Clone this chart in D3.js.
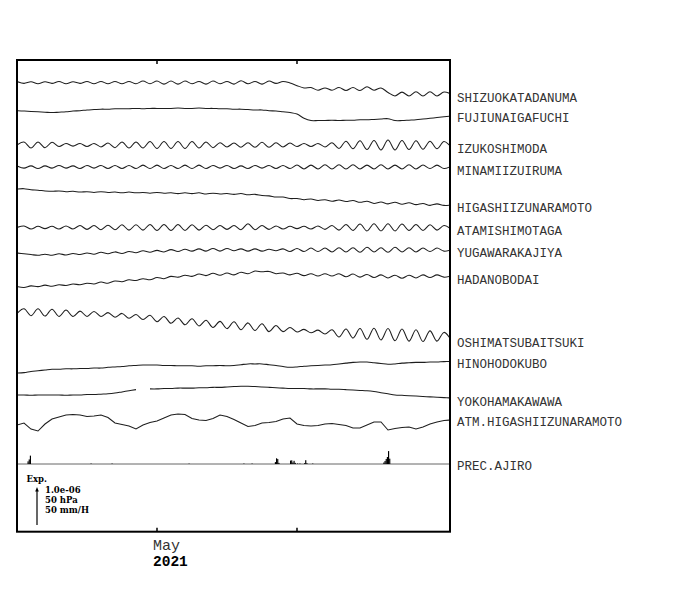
<!DOCTYPE html>
<html><head><meta charset="utf-8">
<script src="https://cdn.jsdelivr.net/npm/d3@7"></script>
<style>body{margin:0;background:#fff}</style>
</head><body>
<svg id="c" width="700" height="590"></svg>
<script>
// ---------------- DATA ----------------
const startTime = "2021-04-26T00:00:00Z";
const endTime = "2021-05-11T11:09:00Z";
const stepHours = 6;               // sampling step of the series below
const stations = ["SHIZUOKATADANUMA","FUJIUNAIGAFUCHI","IZUKOSHIMODA","MINAMIIZUIRUMA",
  "HIGASHIIZUNARAMOTO","ATAMISHIMOTAGA","YUGAWARAKAJIYA","HADANOBODAI",
  "OSHIMATSUBAITSUKI","HINOHODOKUBO","YOKOHAMAKAWAWA","ATM.HIGASHIIZUNARAMOTO","PREC.AJIRO"];

// strain, units of 1e-8 (relative)
const shizuoka = [33,28,32,27,32,28,33,27,32,28, 33,27,33,27,33,27,33,27,34,27, 34,26,34,26,34,27,33,26,34,27,
  33,26,35,27,33,26,34,28,33,29, 22,16,17,10,16,10,17,9,17,9, 19,10,16,4,-5,5,-5,6,-5,6, -5,5,0];
const fujiunaigafuchi = [14,13,12,11,10,9,10,11,13,14, 16,17,18,18,19,19,19,20,19,20, 20,20,20,21,20,20,21,20,20,19,
  19,18,18,17,16,16,14,13,11,9, 5,-6,-12,-12,-12,-11,-12,-11,-11,-10, -10,-9,-8,-7,-12,-12,-11,-10,-8,-6, -4,-2,0];
const izukoshimoda = [0,8,-8,8,-7,7,-4,4,-3,4, -4,4,-5,5,-7,8,-8,8,-8,9, -9,9,-9,9,-9,9,-8,8,-7,6,
  -5,5,-6,6,-6,7,-6,6,-5,5, -4,4,-4,4,-5,6,-9,10,-10,11, -12,12,-13,13,-13,12,-12,11,-11,10, -10,9,-5];
const minamiizuiruma = [3,-3,3,-4,3,-3,4,-3,3,-4, 4,-3,4,-4,4,-4,4,-4,5,-4, 5,-4,4,-4,5,-4,5,-4,4,-3,
  4,-4,3,-4,4,-3,4,-4,4,-4, 5,-5,5,-5,6,-5,6,-5,6,-5, 5,-5,6,-5,5,-5,6,-5,5,-4, 5,-4,2];
const higashiizunaramoto = [42,43,40,39,37,36,37,35,36,34, 35,33,35,33,34,32,34,32,33,31, 33,31,32,30,32,30,32,29,31,29,
  30,28,30,27,28,25,24,21,21,17, 17,14,16,12,14,10,13,9,12,7, 10,4,8,3,7,2,6,1,4,-1, 3,-1,0];
const atamishimotaga = [4,8,0,7,1,7,0,8,0,9, -1,9,-2,10,-2,11,-3,11,-3,12, -4,12,-4,12,-4,11,-3,10,-2,9,
  -1,9,-2,14,-2,9,-1,8,0,7, 1,7,0,8,-1,9,-3,12,-4,13, -5,14,-5,14,-5,13,-4,12,-4,11, -3,9,0];
const yugawarakajiya = [-8,-10,-12,-14,-11,-14,-10,-13,-9,-12, -8,-11,-6,-10,-5,-9,-4,-7,-2,-6, -1,-5,1,-4,2,-3,3,-3,4,-3,
  4,-2,3,-3,3,-3,2,-2,3,-4, 4,-4,5,-4,5,-5,6,-5,6,-6, 7,-5,6,-6,7,-5,6,-5,5,-4, 5,-3,0];
const hadanobodai = [-28,-30,-26,-28,-24,-27,-23,-25,-21,-23, -19,-21,-16,-19,-13,-15,-10,-12,-7,-10, -4,-7,-1,-3,2,-1,5,1,7,2,
  8,3,10,6,13,11,12,6,8,3, 7,1,6,0,6,0,6,-2,5,-3, 4,-4,3,-5,2,-6,2,-5,3,-4, 3,-3,0];
const oshimatsubaitsuki = [70,82,64,82,63,81,62,79,62,76, 62,75,62,72,60,70,57,67,54,65, 48,62,44,58,40,56,37,52,33,49,
  30,48,27,45,25,43,22,38,22,33, 21,28,19,26,16,27,8,29,5,30, 2,31,0,30,-2,29,-3,27,-4,24, -3,20,0];
const hinohodokubo = [-29,-28,-25,-23,-21,-19,-19,-18,-18,-17, -17,-16,-16,-14,-13,-12,-10,-9,-8,-8, -8,-9,-9,-10,-10,-10,-11,-10,-10,-9,
  -10,-9,-7,-5,-5,-5,-7,-9,-12,-14, -13,-11,-10,-9,-8,-7,-5,-3,-1,0, 0,-2,-4,-6,-5,-3,-2,-1,-1,0, 0,1,1];
const yokohamakawawa = [8,8,7,8,8,8,8,7,8,8, 9,9,10,11,13,16,19,22,null,24, 24,25,25,26,26,26,27,27,28,28,
  29,30,31,31,30,29,28,27,26,25, 25,25,24,24,24,23,23,22,21,20, 19,17,14,11,8,7,6,5,4,3, 2,1,0];
// atmospheric pressure, hPa
const atmPressure = [1004.1,1006.7,998.8,996.2,1005.4,1012.0,1014.6,1017.3,1017.9,1017.3,
  1015.3,1016.0,1017.3,1014.0,1006.7,1004.8,1002.8,998.8,1004.1,1007.4,
  1009.4,1013.3,1017.3,1018.6,1017.9,1012.7,1010.7,1010.0,1012.7,1017.3,
  1015.3,1011.3,1006.7,1002.1,1003.4,1006.7,1007.4,1008.7,1012.0,1013.3,
  1005.4,1003.4,1002.8,1003.4,1005.4,1006.1,1004.8,1003.4,1000.2,1000.2,
  1004.1,1008.1,1008.1,997.5,999.5,1000.8,1001.5,998.8,1001.5,1005.4,
  1008.1,1010.0,1010.7];
// precipitation: [hours since start, mm/h]
const precipitation = [[9,3.5],[10,6],[11,11],[63,0.6],[81,0.6],[147,0.5],[194,0.6],[201,0.6],
  [221,2.5],[222,7.5],[223,6.5],[224,1.5],
  [234,4.5],[235,4.8],[236,2],[237,4.2],[238,1.5],[240,0.6],[242,0.6],[246,1],[247,5],[248,1],[253,0.6],
  [314,2],[315,4],[316,6.6],[317,9.2],[318,17],[319,7]];
const tickDates = ["2021-05-01T00:00:00Z","2021-05-06T00:00:00Z"];
const monthLabel = "May", yearLabel = "2021";
const legendTitle = "Exp.";
const legendLabels = ["1.0e-06","50 hPa","50 mm/H"];

// ---------------- LAYOUT ----------------
const L = 17, R = 450, T = 60, B = 531.7;
const zeroY = [94,116,145,167,205,229,250,276,340,362,398,419,464];
const labelY = [101.5,121.7,153.3,175,212.3,235,256.7,283.5,346.7,368.3,405.7,425.7,470];
const unitPx = 38; // length of the scale arrow

const svg = d3.select("#c");
const x = d3.scaleUtc().domain([new Date(startTime), new Date(endTime)]).range([L, R]);
const t0 = +new Date(startTime);
const tAt = i => new Date(t0 + i * stepHours * 3600e3);

svg.append("defs").append("clipPath").attr("id","clip")
  .append("rect").attr("x", L+1).attr("y", T+1).attr("width", R-L-2).attr("height", B-T-2);
const g = svg.append("g").attr("clip-path","url(#clip)");

const strain = [shizuoka,fujiunaigafuchi,izukoshimoda,minamiizuiruma,higashiizunaramoto,atamishimotaga,
  yugawarakajiya,hadanobodai,oshimatsubaitsuki,hinohodokubo,yokohamakawawa];
strain.forEach((s,k) => {
  const y = d3.scaleLinear().domain([0,100]).range([zeroY[k], zeroY[k]-unitPx]);
  const line = d3.line().defined(d => d != null).x((d,i) => x(tAt(i))).y(d => y(d))
    .curve(d3.curveCatmullRom.alpha(0.5));
  g.append("path").attr("d", line(s)).attr("fill","none").attr("stroke","#1e1e1e").attr("stroke-width",1.05);
});
// atmospheric pressure
{
  const y = d3.scaleLinear().domain([1012,1062]).range([zeroY[11], zeroY[11]-unitPx]);
  const line = d3.line().x((d,i) => x(tAt(i))).y(d => y(d));
  g.append("path").attr("d", line(atmPressure)).attr("fill","none").attr("stroke","#1e1e1e").attr("stroke-width",1.05);
}
// precipitation
{
  const y = d3.scaleLinear().domain([0,50]).range([zeroY[12], zeroY[12]-unitPx]);
  g.append("line").attr("x1",L).attr("x2",R).attr("y1",y(0)).attr("y2",y(0))
    .attr("stroke","#666").attr("stroke-width",1);
  g.selectAll("rect.p").data(precipitation).join("rect").attr("class","p")
    .attr("x", d => x(new Date(t0 + d[0]*3600e3)))
    .attr("width", d => x(new Date(t0 + (d[0]+1)*3600e3)) - x(new Date(t0 + d[0]*3600e3)))
    .attr("y", d => y(d[1])).attr("height", d => y(0) - y(d[1]))
    .attr("fill","#000");
}

// frame
svg.append("rect").attr("x",L).attr("y",T).attr("width",R-L).attr("height",B-T)
  .attr("fill","none").attr("stroke","#000").attr("stroke-width",2);
tickDates.forEach(s => {
  const tx = x(new Date(s));
  svg.append("line").attr("x1",tx).attr("x2",tx).attr("y1",T).attr("y2",T+4).attr("stroke","#000").attr("stroke-width",1.5);
  svg.append("line").attr("x1",tx).attr("x2",tx).attr("y1",B).attr("y2",B-4).attr("stroke","#000").attr("stroke-width",1.5);
});
const firstTick = x(new Date(tickDates[0]));
svg.append("text").attr("x", firstTick-4).attr("y", 549.5).text(monthLabel)
  .attr("font-family","Liberation Mono").attr("font-size",15).attr("fill","#333");
svg.append("text").attr("x", firstTick-4).attr("y", 566).text(yearLabel)
  .attr("font-family","Liberation Mono").attr("font-weight","bold").attr("font-size",14.5).attr("fill","#000");

// labels
stations.forEach((s,k) => {
  svg.append("text").attr("x",457).attr("y",labelY[k]).text(s)
    .attr("font-family","Liberation Mono").attr("font-size",12.5).attr("fill","#333");
});

// legend
svg.append("text").attr("x",26.5).attr("y",481.5).text(legendTitle)
  .attr("font-family","DejaVu Serif").attr("font-weight","bold").attr("font-size",8.5);
legendLabels.forEach((s,k) => {
  svg.append("text").attr("x",45).attr("y",493.3 + k*10).text(s)
    .attr("font-family","DejaVu Serif").attr("font-weight","bold").attr("font-size",8.5);
});
const ax = 37, ay = 525;
svg.append("line").attr("x1",ax).attr("x2",ax).attr("y1",ay).attr("y2",ay-unitPx+3)
  .attr("stroke","#000").attr("stroke-width",1.2);
svg.append("path").attr("d",`M${ax},${ay-unitPx} L${ax-1.8},${ay-unitPx+4.5} L${ax+1.8},${ay-unitPx+4.5} Z`).attr("fill","#000");
</script>
</body></html>
